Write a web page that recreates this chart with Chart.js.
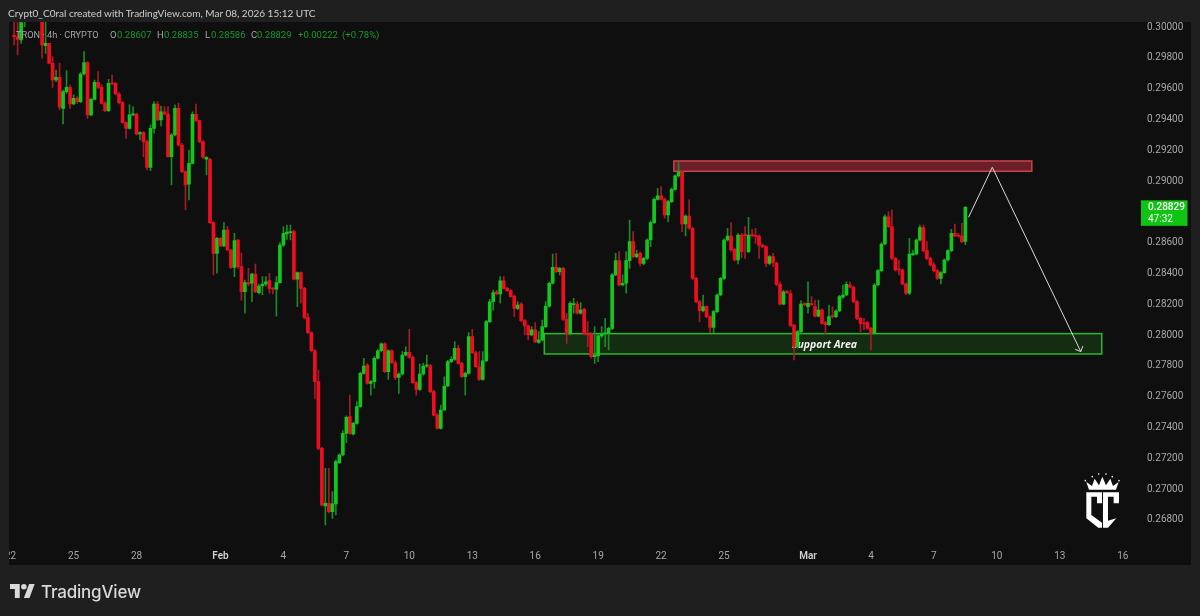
<!DOCTYPE html>
<html><head><meta charset="utf-8">
<script src="https://cdn.jsdelivr.net/npm/chart.js@4"></script>
<style>
html,body{margin:0;padding:0;background:#1f1f1f;width:1200px;height:616px;overflow:hidden}
#wrap{position:relative;width:1200px;height:616px;font-family:Roboto,sans-serif}
canvas{position:absolute;left:0;top:0}
.t{position:absolute;white-space:pre;font-size:9.5px;line-height:14px;top:28px}
.g{color:#159a2a}.w{color:#a6a6a6}
</style></head><body><div id="wrap">
<canvas id="c" width="1200" height="616"></canvas>
<div class="t" style="left:8px;top:6px;font:10px/14px Lato,sans-serif;color:#cfcfcf">Crypt0_C0ral created with TradingView.com, Mar 08, 2026 15:12 UTC</div>
<div class="t w" style="left:16px;font-size:9.2px">TRON · 4h · CRYPTO</div>
<div class="t w" style="left:110px">O</div><div class="t g" style="left:117px">0.28607</div>
<div class="t w" style="left:157px">H</div><div class="t g" style="left:164px">0.28835</div>
<div class="t w" style="left:205px">L</div><div class="t g" style="left:211px">0.28586</div>
<div class="t w" style="left:251px">C</div><div class="t g" style="left:257px">0.28829</div>
<div class="t g" style="left:298px">+0.00222</div><div class="t g" style="left:342px">(+0.78%)</div>
<svg style="position:absolute;left:10px;top:584px" width="25" height="14" viewBox="0 0 36 20"><path fill="#d9d9d9" d="M14 20H7V7H0V0h14zM28 20h-8L27.500 0h8z"/><circle fill="#d9d9d9" cx="20" cy="4" r="4"/></svg>
<div style="position:absolute;left:41px;top:580px;font:500 17px Inter,sans-serif;line-height:24px;color:#d9d9d9;letter-spacing:-.2px">TradingView</div>
<svg style="position:absolute;left:1083px;top:470px" width="38.300" height="60" viewBox="130 60 115 180">
<g fill="#fff"><polygon points="140,127 187,127 187,160 172,160 172,140 155,140 155,195 187,218 187,233 176,233 140,205"/>
<polygon points="190,127 238,127 238,160 222,160 222,140 205,140 205,212 230,205 205,233 190,233"/>
<polygon points="148,119 140,96 157,108 165,86 178,106 188,80 199,106 212,86 220,108 237,96 229,119"/>
<circle cx="137" cy="92" r="2.500"/><circle cx="158" cy="80" r="2.500"/><circle cx="177" cy="72" r="2.500"/><circle cx="199" cy="72" r="2.500"/><circle cx="218" cy="80" r="2.500"/><circle cx="238" cy="92" r="2.500"/></g>
</svg>
</div>
<script>
const firstCandleIndex = -59;
const openPrices = [
0.29946,0.29937,0.29916,0.30050,0.30100,0.30150,0.30120,0.30090,0.30060,0.29879,
0.29894,0.29764,0.29656,0.29673,0.29472,0.29580,0.29608,0.29500,0.29537,0.29515,
0.29695,0.29769,0.29429,0.29530,0.29641,0.29608,0.29504,0.29457,0.29634,0.29634,
0.29565,0.29509,0.29379,0.29342,0.29429,0.29435,0.29305,0.29314,0.29256,0.29089,
0.29342,0.29500,0.29396,0.29450,0.29435,0.29158,0.29299,0.29472,0.29234,0.29061,
0.28979,0.29115,0.29433,0.29392,0.29256,0.29141,0.29141,0.28730,0.28530,0.28628,
0.28578,0.28682,0.28552,0.28439,0.28617,0.28444,0.28281,0.28340,0.28336,0.28396,
0.28275,0.28318,0.28331,0.28353,0.28303,0.28297,0.28340,0.28584,0.28656,0.28665,
0.28671,0.28362,0.28405,0.28303,0.28115,0.28015,0.27898,0.27697,0.27264,0.26890,
0.26907,0.26853,0.26903,0.27171,0.27221,0.27361,0.27470,0.27357,0.27426,0.27535,
0.27751,0.27805,0.27686,0.27697,0.27849,0.27898,0.27942,0.27762,0.27898,0.27820,
0.27725,0.27747,0.27870,0.27887,0.27855,0.27691,0.27647,0.27747,0.27799,0.27801,
0.27632,0.27480,0.27394,0.27513,0.27669,0.27827,0.27842,0.27913,0.27816,0.27729,
0.27751,0.27989,0.27885,0.27794,0.27712,0.27833,0.28087,0.28217,0.28281,0.28266,
0.28351,0.28303,0.28288,0.28253,0.28173,0.28201,0.28093,0.28059,0.28000,0.28033,
0.27952,0.27968,0.28054,0.28188,0.28336,0.28439,0.28411,0.28433,0.28102,0.28007,
0.28197,0.28201,0.28141,0.28167,0.28007,0.28007,0.27859,0.27864,0.27994,0.28007,
0.28011,0.28043,0.28390,0.28483,0.28325,0.28336,0.28483,0.28606,0.28509,0.28530,
0.28465,0.28498,0.28617,0.28730,0.28881,0.28903,0.28881,0.28779,0.28866,0.28946,
0.29033,0.29059,0.28721,0.28773,0.28693,0.28368,0.28217,0.28158,0.28184,0.28119,
0.28050,0.28152,0.28260,0.28368,0.28617,0.28643,0.28556,0.28487,0.28649,0.28649,
0.28541,0.28649,0.28645,0.28643,0.28584,0.28574,0.28465,0.28509,0.28465,0.28329,
0.28201,0.28281,0.28271,0.28065,0.27924,0.28022,0.28201,0.28184,0.28201,0.28184,
0.28123,0.28162,0.28080,0.28067,0.28123,0.28119,0.28156,0.28245,0.28260,0.28325,
0.28310,0.28217,0.28108,0.28076,0.28080,0.28043,0.28011,0.28325,0.28418,0.28591,
0.28768,0.28704,0.28498,0.28426,0.28422,0.28331,0.28271,0.28522,0.28526,0.28617,
0.28697,0.28548,0.28498,0.28455,0.28418,0.28368,0.28405,0.28487,0.28548,0.28660,
0.28645,0.28643,0.28607];
const closePrices = [
0.29937,0.29920,0.30028,0.30100,0.30150,0.30120,0.30090,0.30060,0.29883,0.29894,
0.29764,0.29656,0.29673,0.29479,0.29580,0.29608,0.29500,0.29537,0.29515,0.29695,
0.29769,0.29429,0.29530,0.29641,0.29608,0.29504,0.29457,0.29634,0.29630,0.29565,
0.29509,0.29379,0.29342,0.29429,0.29435,0.29305,0.29314,0.29256,0.29089,0.29342,
0.29500,0.29396,0.29450,0.29435,0.29158,0.29299,0.29472,0.29234,0.29061,0.28974,
0.29115,0.29433,0.29392,0.29256,0.29154,0.29154,0.28730,0.28530,0.28628,0.28578,
0.28682,0.28552,0.28439,0.28613,0.28444,0.28281,0.28340,0.28331,0.28396,0.28281,
0.28318,0.28331,0.28346,0.28303,0.28297,0.28340,0.28584,0.28660,0.28669,0.28671,
0.28362,0.28405,0.28303,0.28115,0.28015,0.27898,0.27697,0.27264,0.26896,0.26907,
0.26853,0.26903,0.27178,0.27221,0.27361,0.27465,0.27361,0.27426,0.27535,0.27751,
0.27799,0.27686,0.27697,0.27849,0.27898,0.27942,0.27762,0.27898,0.27820,0.27725,
0.27747,0.27870,0.27887,0.27855,0.27691,0.27647,0.27747,0.27799,0.27805,0.27632,
0.27480,0.27394,0.27513,0.27669,0.27827,0.27842,0.27913,0.27816,0.27729,0.27751,
0.27989,0.27885,0.27794,0.27712,0.27833,0.28087,0.28216,0.28275,0.28266,0.28351,
0.28303,0.28288,0.28249,0.28173,0.28195,0.28093,0.28059,0.28000,0.28033,0.27957,
0.27968,0.28054,0.28188,0.28336,0.28439,0.28411,0.28433,0.28102,0.28007,0.28206,
0.28201,0.28141,0.28162,0.28007,0.28000,0.27859,0.27870,0.27994,0.28007,0.28011,
0.28043,0.28390,0.28483,0.28325,0.28336,0.28483,0.28606,0.28509,0.28526,0.28465,
0.28498,0.28617,0.28730,0.28881,0.28903,0.28881,0.28779,0.28866,0.28946,0.29033,
0.29059,0.28721,0.28773,0.28693,0.28368,0.28217,0.28158,0.28184,0.28119,0.28050,
0.28152,0.28260,0.28368,0.28617,0.28643,0.28552,0.28487,0.28649,0.28541,0.28645,
0.28649,0.28645,0.28640,0.28584,0.28574,0.28465,0.28509,0.28470,0.28329,0.28201,
0.28281,0.28275,0.28061,0.27924,0.28022,0.28201,0.28197,0.28206,0.28197,0.28123,
0.28162,0.28076,0.28067,0.28119,0.28119,0.28156,0.28249,0.28260,0.28329,0.28310,
0.28217,0.28108,0.28076,0.28072,0.28043,0.28011,0.28325,0.28418,0.28591,0.28768,
0.28704,0.28498,0.28422,0.28422,0.28331,0.28271,0.28526,0.28526,0.28617,0.28697,
0.28548,0.28498,0.28455,0.28418,0.28368,0.28405,0.28487,0.28548,0.28660,0.28643,
0.28641,0.28606,0.28829];
const highPrices = [
0.30033,0.30033,0.30050,0.30120,0.30180,0.30170,0.30140,0.30110,0.30070,0.30033,
0.29894,0.29808,0.29721,0.29764,0.29591,0.29717,0.29624,0.29559,0.29548,0.29704,
0.29840,0.29775,0.29537,0.29656,0.29710,0.29624,0.29515,0.29660,0.29688,0.29639,
0.29574,0.29515,0.29385,0.29494,0.29483,0.29440,0.29321,0.29321,0.29266,0.29364,
0.29515,0.29515,0.29487,0.29483,0.29483,0.29310,0.29494,0.29504,0.29245,0.29067,
0.29201,0.29450,0.29500,0.29396,0.29262,0.29158,0.29147,0.28736,0.28634,0.28634,
0.28730,0.28704,0.28556,0.28660,0.28621,0.28530,0.28357,0.28433,0.28400,0.28461,
0.28330,0.28379,0.28379,0.28400,0.28310,0.28379,0.28600,0.28704,0.28714,0.28714,
0.28680,0.28410,0.28410,0.28310,0.28141,0.28020,0.27905,0.27773,0.27270,0.27134,
0.27134,0.26983,0.27190,0.27230,0.27380,0.27475,0.27610,0.27435,0.27567,0.27760,
0.27849,0.27815,0.27705,0.27860,0.27905,0.27950,0.27950,0.27905,0.27905,0.27830,
0.27755,0.27892,0.27924,0.28037,0.27865,0.27700,0.27812,0.27816,0.27870,0.27810,
0.27640,0.27490,0.27545,0.27729,0.27835,0.27860,0.27957,0.27935,0.27825,0.27760,
0.28015,0.28037,0.27895,0.27892,0.27892,0.28095,0.28232,0.28292,0.28290,0.28379,
0.28379,0.28310,0.28295,0.28260,0.28217,0.28210,0.28100,0.28065,0.28054,0.28080,
0.28022,0.28097,0.28217,0.28345,0.28526,0.28530,0.28440,0.28440,0.28140,0.28217,
0.28238,0.28217,0.28210,0.28175,0.28087,0.28015,0.28054,0.28005,0.28054,0.28108,
0.28050,0.28400,0.28530,0.28541,0.28390,0.28541,0.28747,0.28671,0.28552,0.28540,
0.28505,0.28625,0.28740,0.28890,0.28952,0.28963,0.28890,0.28875,0.28955,0.29040,
0.29119,0.29070,0.28780,0.28877,0.28700,0.28375,0.28225,0.28260,0.28190,0.28125,
0.28160,0.28268,0.28375,0.28625,0.28693,0.28730,0.28565,0.28658,0.28660,0.28704,
0.28764,0.28686,0.28693,0.28650,0.28590,0.28580,0.28515,0.28530,0.28475,0.28346,
0.28290,0.28292,0.28292,0.28070,0.28030,0.28223,0.28210,0.28346,0.28249,0.28227,
0.28227,0.28170,0.28088,0.28195,0.28184,0.28165,0.28258,0.28325,0.28346,0.28346,
0.28318,0.28225,0.28115,0.28108,0.28088,0.28050,0.28335,0.28425,0.28600,0.28780,
0.28801,0.28812,0.28505,0.28487,0.28430,0.28338,0.28628,0.28552,0.28625,0.28714,
0.28714,0.28606,0.28505,0.28470,0.28425,0.28412,0.28495,0.28555,0.28686,0.28721,
0.28660,0.28725,0.28835];
const lowPrices = [
0.29883,0.29818,0.29894,0.30002,0.30080,0.30100,0.30070,0.30045,0.29797,0.29829,
0.29764,0.29608,0.29645,0.29461,0.29370,0.29569,0.29472,0.29494,0.29504,0.29509,
0.29688,0.29407,0.29422,0.29526,0.29602,0.29500,0.29450,0.29450,0.29624,0.29559,
0.29500,0.29375,0.29277,0.29336,0.29422,0.29299,0.29266,0.29158,0.29072,0.29067,
0.29310,0.29392,0.29357,0.29429,0.29154,0.28974,0.29292,0.29227,0.29054,0.28812,
0.28877,0.29111,0.29385,0.29249,0.29147,0.29039,0.28725,0.28390,0.28401,0.28574,
0.28574,0.28548,0.28433,0.28379,0.28433,0.28227,0.28141,0.28318,0.28216,0.28275,
0.28266,0.28260,0.28318,0.28271,0.28266,0.28123,0.28336,0.28575,0.28621,0.28617,
0.28357,0.28184,0.28206,0.28105,0.28010,0.27890,0.27589,0.27255,0.26890,0.26766,
0.26845,0.26809,0.26831,0.27165,0.27215,0.27301,0.27355,0.27350,0.27420,0.27530,
0.27745,0.27680,0.27610,0.27654,0.27845,0.27890,0.27755,0.27712,0.27815,0.27710,
0.27621,0.27740,0.27865,0.27850,0.27685,0.27610,0.27640,0.27740,0.27790,0.27625,
0.27475,0.27388,0.27388,0.27508,0.27664,0.27820,0.27835,0.27810,0.27724,0.27610,
0.27745,0.27880,0.27790,0.27705,0.27705,0.27825,0.28080,0.28162,0.28260,0.28206,
0.28298,0.28283,0.28245,0.28119,0.28165,0.28088,0.28000,0.27968,0.27995,0.27950,
0.27945,0.27960,0.28048,0.28180,0.28330,0.28405,0.28390,0.28095,0.27946,0.28000,
0.28141,0.28135,0.28135,0.28000,0.27924,0.27852,0.27816,0.27827,0.27985,0.27924,
0.27903,0.28035,0.28385,0.28318,0.28318,0.28271,0.28433,0.28500,0.28500,0.28448,
0.28455,0.28490,0.28574,0.28725,0.28875,0.28875,0.28758,0.28736,0.28860,0.28940,
0.29025,0.28671,0.28643,0.28685,0.28360,0.28210,0.28087,0.28150,0.28112,0.28015,
0.28015,0.28145,0.28255,0.28360,0.28610,0.28545,0.28480,0.28461,0.28500,0.28498,
0.28535,0.28635,0.28595,0.28498,0.28565,0.28444,0.28455,0.28444,0.28320,0.28195,
0.28195,0.28268,0.28055,0.27838,0.27915,0.28015,0.28190,0.28141,0.28190,0.28118,
0.28118,0.28070,0.28011,0.28060,0.28110,0.28112,0.28150,0.28238,0.28255,0.28305,
0.28210,0.28100,0.28022,0.28033,0.28036,0.27903,0.28005,0.28318,0.28410,0.28585,
0.28698,0.28490,0.28415,0.28390,0.28325,0.28262,0.28262,0.28515,0.28520,0.28610,
0.28540,0.28490,0.28448,0.28410,0.28360,0.28331,0.28400,0.28480,0.28540,0.28638,
0.28635,0.28600,0.28586];
const dayTickIndexes = [-60,-42,-24,0,18,36,54,72,90,108,126,144,168,186,204,222,240,258];
const dayTickLabels = ['22','25','28','Feb','4','7','10','13','16','19','22','25','Mar','4','7','10','13','16'];
const boldTicks = ['Feb','Mar'];
const priceTicks = [0.300,0.298,0.296,0.294,0.292,0.290,0.286,0.284,0.282,0.280,0.278,0.276,0.274,0.272,0.270,0.268];
const lastPrice = 0.28829;
const countdown = '47:32';
const resistanceZone = [129.65,232,0.29130,0.29063];
const supportZone = [92.6,252,0.28009,0.27877];
const supportLabelAt = [172.7,0.27935];
const supportLabel = 'Support Area';
const pathIndexes = [213.9,220.7,246.0];
const pathPrices = [0.28764,0.29089,0.27892];
const headIndexes = [244.4,246.0,246.6];
const headPrices = [0.27907,0.27892,0.27929];

const GREEN='#13c71c', RED='#f00d20', GREEN_W='#1a8a25', RED_W='#a51c28', TXT='#a8a8a8';
const FONT='Roboto,sans-serif';
const idx = openPrices.map((_,i)=>firstCandleIndex+i);
const up = openPrices.map((o,i)=>closePrices[i]>=o);

const decor = {
  id:'decor',
  beforeDraw(ch){
    const c=ch.ctx; c.save();
    c.fillStyle='#1f1f1f'; c.fillRect(0,0,1200,616);
    c.fillStyle='#0f0f0f'; c.fillRect(9,22,1182,543);
    c.restore();
  },
  beforeDatasetsDraw(ch){
    const c=ch.ctx, X=ch.scales.x, Y=ch.scales.y;
    const zone=(z,fill,stroke)=>{
      const x0=X.getPixelForValue(z[0]),x1=X.getPixelForValue(z[1]),y0=Y.getPixelForValue(z[2]),y1=Y.getPixelForValue(z[3]);
      c.save();c.fillStyle=fill;c.fillRect(x0,y0,x1-x0,y1-y0);
      c.strokeStyle=stroke;c.lineWidth=1.5;c.strokeRect(x0,y0,x1-x0,y1-y0);c.restore();
    };
    zone(resistanceZone,'#6c1f29','#c9434f');
    zone(supportZone,'#132c12','#2fb52f');
    c.save();c.font='italic 700 10.5px "Open Sans",sans-serif';c.fillStyle='#f2f2f2';
    c.textAlign='center';c.textBaseline='middle';
    c.fillText(supportLabel,X.getPixelForValue(supportLabelAt[0]),Y.getPixelForValue(supportLabelAt[1]));
    c.restore();
  },
  afterDraw(ch){
    const c=ch.ctx, Y=ch.scales.y; c.save();
    c.fillStyle='#1f1f1f'; c.fillRect(0,0,9,616);
    const y=Y.getPixelForValue(lastPrice);
    c.fillStyle='#10c414'; c.fillRect(1141,y-7,46.5,25.5);
    c.fillStyle='#fff'; c.font='500 10px '+FONT; c.textBaseline='middle'; c.textAlign='left';
    c.fillText(lastPrice.toFixed(5),1148,y+0.5);
    c.font='10px '+FONT; c.fillText(countdown,1148,y+12);
    c.restore();
  }
};

new Chart(document.getElementById('c'),{
  data:{datasets:[
    {type:'line',order:0,data:pathIndexes.map((x,i)=>({x,y:pathPrices[i]})),borderColor:'#d8d8d8',borderWidth:1,pointRadius:0,tension:0},
    {type:'line',order:0,data:headIndexes.map((x,i)=>({x,y:headPrices[i]})),borderColor:'#d8d8d8',borderWidth:1,pointRadius:0,tension:0},
    {type:'bar',order:1,grouped:false,barThickness:3,data:idx.map((x,i)=>({x,y:[openPrices[i],closePrices[i]]})),backgroundColor:up.map(u=>u?GREEN:RED),borderWidth:0,minBarLength:1},
    {type:'bar',order:2,grouped:false,barThickness:1,data:idx.map((x,i)=>({x,y:[lowPrices[i],highPrices[i]]})),backgroundColor:up.map(u=>u?GREEN_W:RED_W),borderWidth:0}
  ]},
  options:{
    responsive:false,animation:false,devicePixelRatio:1,
    plugins:{legend:{display:false},tooltip:{enabled:false}},
    scales:{
      x:{type:'linear',min:-62.41,max:262.93,offset:false,grid:{display:false,drawTicks:false},border:{display:false},
        afterFit(s){s.height=71;},
        afterBuildTicks(s){s.ticks=dayTickIndexes.map(v=>({value:v}));},
        afterTickToLabelConversion(s){s.ticks.forEach((t,i)=>{t.label=dayTickLabels[i];});},
        ticks:{autoSkip:false,maxRotation:0,minRotation:0,padding:5,color:(c)=>boldTicks.includes(dayTickLabels[c.index])?'#d0d0d0':TXT,
          font:(c)=>({family:FONT,size:10,weight:boldTicks.includes(dayTickLabels[c.index])?'600':'400'})}},
      y:{position:'right',min:0.266364,max:0.300325,grid:{display:false,drawTicks:false},border:{display:false},
        afterFit(s){s.width=60;},
        afterBuildTicks(s){s.ticks=priceTicks.map(v=>({value:v}));},
        ticks:{padding:7,color:TXT,font:{family:FONT,size:10},callback:v=>v.toFixed(5)}}
    },
    layout:{padding:{top:22,left:0,right:0,bottom:0}}
  },
  plugins:[decor]
});
</script>
</body></html>
